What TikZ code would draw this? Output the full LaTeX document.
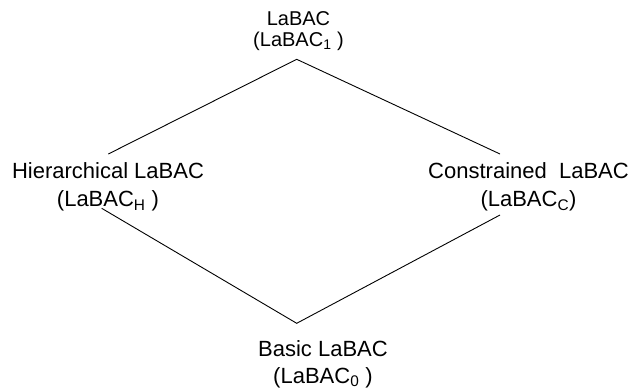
\documentclass[tikz,border=0pt]{standalone}
\usepackage{fontspec}
\setmainfont{Liberation Sans}
\begin{document}
\begin{tikzpicture}[x=1pt,y=-1pt,
  lbl/.style={anchor=base,inner sep=0pt,outer sep=0pt,text=black},
  conn/.style={draw=black,line width=0.9pt}]
\useasboundingbox (0,0) rectangle (631,391);
% labels
\node[lbl] (top) at (298.5,25.7)
  {\fontsize{20}{21}\selectfont\begin{tabular}[t]{@{}c@{}}LaBAC\\(LaBAC\textsubscript{1} )\end{tabular}};
\node[lbl] (left) at (108,178.5)
  {\fontsize{22}{28.3}\selectfont\begin{tabular}[t]{@{}c@{}}Hierarchical LaBAC\\(LaBAC\textsubscript{H} )\end{tabular}};
\node[lbl] (right) at (528.5,178)
  {\fontsize{22}{28.7}\selectfont\begin{tabular}[t]{@{}c@{}}Constrained\ \ LaBAC\\(LaBAC\textsubscript{C})\end{tabular}};
\node[lbl] (bottom) at (323,356.7)
  {\fontsize{22}{26.3}\selectfont\begin{tabular}[t]{@{}c@{}}Basic LaBAC\\(LaBAC\textsubscript{0} )\end{tabular}};
% connector end points
\coordinate (tv) at (296.7,59.3);
\coordinate (lu) at (108.3,154);
\coordinate (ru) at (500,154);
\coordinate (ll) at (101.7,208.3);
\coordinate (rl) at (500,215);
\coordinate (bv) at (296.7,323.3);
% connectors
\draw[conn] (lu) -- (tv) -- (ru);
\draw[conn] (ll) -- (bv) -- (rl);
\end{tikzpicture}
\end{document}
